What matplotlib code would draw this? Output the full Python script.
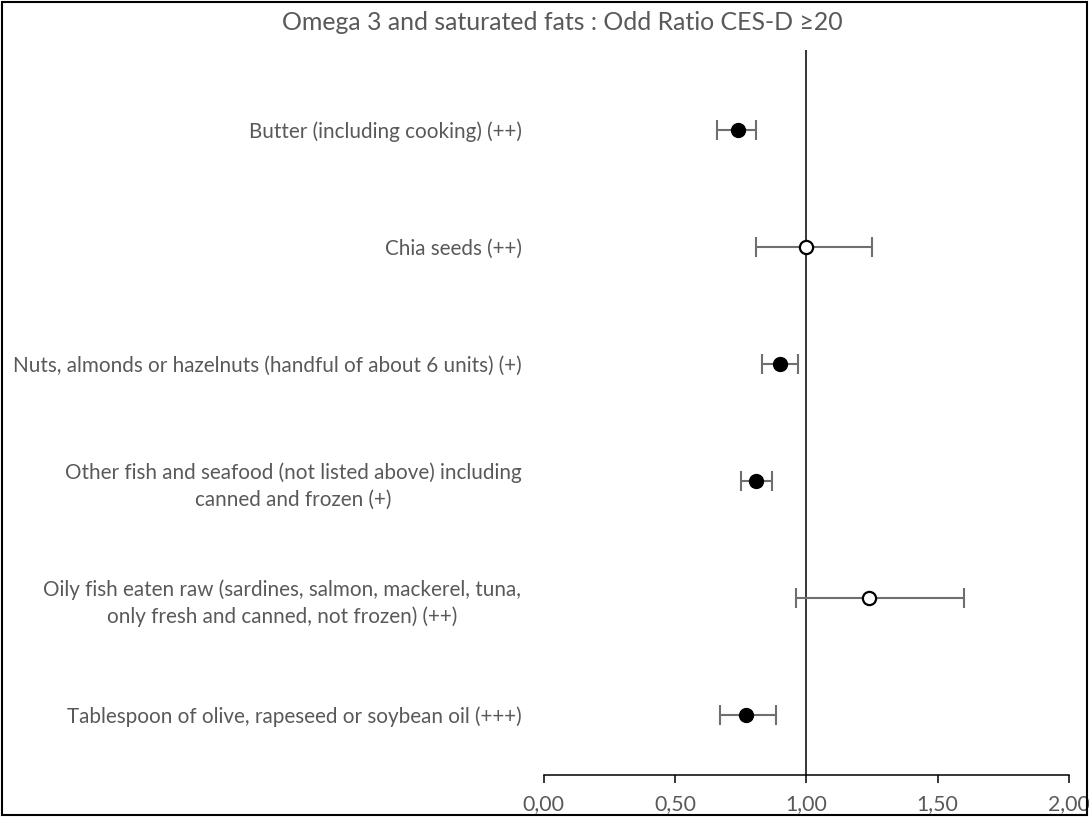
import matplotlib
matplotlib.use("Agg")
import matplotlib.pyplot as plt
from matplotlib.patches import Rectangle

plt.rcParams['font.family'] = ['Lato', 'DejaVu Sans']

labels = [
    "Butter (including cooking) (++)",
    "Chia seeds (++)",
    "Nuts, almonds or hazelnuts (handful of about 6 units) (+)",
    "Other fish and seafood (not listed above) including\ncanned and frozen (+)",
    "Oily fish eaten raw (sardines, salmon, mackerel, tuna,\nonly fresh and canned, not frozen) (++)",
    "Tablespoon of olive, rapeseed or soybean oil (+++)",
]
odds_ratio = [0.74, 1.00, 0.90, 0.81, 1.24, 0.77]
ci_low = [0.66, 0.81, 0.83, 0.75, 0.96, 0.67]
ci_high = [0.81, 1.25, 0.97, 0.87, 1.60, 0.885]
significant = [True, False, True, True, False, True]
x_ticks = [0.0, 0.5, 1.0, 1.5, 2.0]
x_ticklabels = ["0,00", "0,50", "1,00", "1,50", "2,00"]
title = "Omega 3 and saturated fats : Odd Ratio CES-D \u226520"

fig = plt.figure(figsize=(10.89, 8.17), dpi=100)
ax = fig.add_axes([0.4992, 0.0514, 0.9816 - 0.4992, 0.9388 - 0.0514])

n = len(labels)
ypos = [n - i for i in range(n)]

ax.axvline(1.0, color='black', lw=1.1, zorder=1)

for y, v, lo, hi, sig in zip(ypos, odds_ratio, ci_low, ci_high, significant):
    ax.errorbar([v], [y], xerr=[[v - lo], [hi - v]], fmt='none',
                ecolor='#6f6f6f', elinewidth=1.5, capsize=7, capthick=1.5, zorder=2)
    if sig:
        ax.plot([v], [y], 'o', ms=10, mfc='black', mec='black', zorder=3)
    else:
        ax.plot([v], [y], 'o', ms=9.5, mfc='white', mec='black', mew=1.6, zorder=3)

ax.set_xlim(0, 2)
ax.set_ylim(0.487, 6.68)
ax.set_xticks(x_ticks)
ax.set_xticklabels(x_ticklabels, fontsize=15.3, color='#595959')
ax.tick_params(axis='x', direction='out', length=6, width=1.1, color='black', pad=8)
ax.set_yticks(ypos)
ax.set_yticklabels(labels, fontsize=14.9, color='#595959', multialignment='center',
                   linespacing=1.4)
ax.tick_params(axis='y', length=0, pad=16)
for s in ['top', 'right', 'left']:
    ax.spines[s].set_visible(False)
ax.spines['bottom'].set_linewidth(1.1)

fig.text(0.516, 0.972, title, ha='center', va='center', fontsize=17.9, color='#595959')

fig.patches.append(Rectangle((0.002, 0.002), 0.996, 0.996, transform=fig.transFigure,
                             fill=False, edgecolor='black', lw=1.5))

fig.savefig("out.png", dpi=100)
